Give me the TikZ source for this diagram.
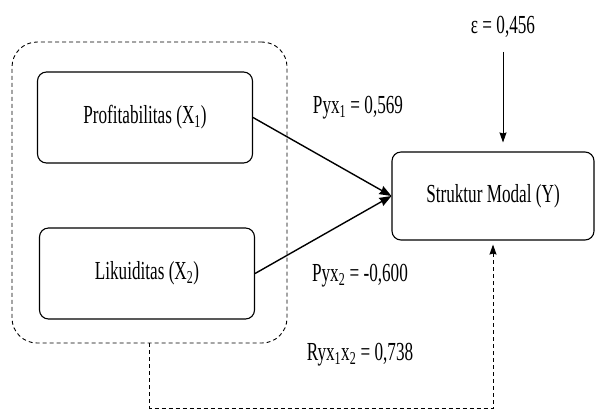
\documentclass[tikz,border=0pt]{standalone}
\usepackage{fontspec}
\setmainfont{Liberation Serif}[FakeStretch=0.66]
\usepackage{tikz}
\usetikzlibrary{arrows,arrows.meta,shapes}
\usetikzlibrary{calc}
\tikzstyle{varbox}=[rectangle,rounded corners=9bp,draw,line width=1.1bp,inner sep=0pt]
\tikzstyle{groupbox}=[rectangle,rounded corners=25bp,draw,line width=0.9bp,dash pattern=on 4bp off 3bp,minimum width=275bp,minimum height=301bp]
\tikzstyle{coef}=[inner sep=2bp]

\begin{document}
\begin{tikzpicture}[x=1bp, y=-1bp, font=\fontsize{26bp}{29bp}\selectfont]
    \useasboundingbox (0,0) rectangle (595,410);
    \node[groupbox] (grp) at (149.5,192.5) {};
    \foreach \pos/\name/\txt in {{(145,117.5)/X1/Profitabilitas (X\textsubscript{1})},  {(147,273.5)/X2/Likuiditas (X\textsubscript{2})}}
        \node[varbox, minimum width=215bp, minimum height=91bp] (\name) at \pos {\txt};
    \node[varbox, minimum width=202bp, minimum height=88bp] (Y) at (493,196) {Struktur Modal (Y)};

    \node[coef] (eps) at (503,27) {ε = 0,456};
    \node[coef] (p1) at (358,108) {Pyx\textsubscript{1} = 0,569};
    \node[coef] (p2) at (360,276) {Pyx\textsubscript{2} = -0,600};
    \node[coef] (r12) at (360,355) {Ryx\textsubscript{1}x\textsubscript{2} = 0,738};

             \draw[line width=1.4bp, -{Stealth[length=12bp,width=9bp,inset=1bp]}] (X1.east) to (Y.west);
             \draw[line width=1.4bp, -{Stealth[length=12bp,width=9bp,inset=1bp]}] (X2.east) to (Y.west);
             \draw[line width=0.9bp, -{Stealth[length=10bp,width=7bp,inset=1bp]}, shorten <=12bp, shorten >=9bp] (eps.south) to (eps.south |- Y.north);
             \draw[line width=0.9bp, -{Stealth[length=10bp,width=7bp,inset=1bp]}, dash pattern=on 4bp off 3bp, shorten >=4bp] (grp.south) -- ++(0,65) -| (Y.south);
%            \draw[dashed] (X1) to (X2);

   \end{tikzpicture}
\end{document}
